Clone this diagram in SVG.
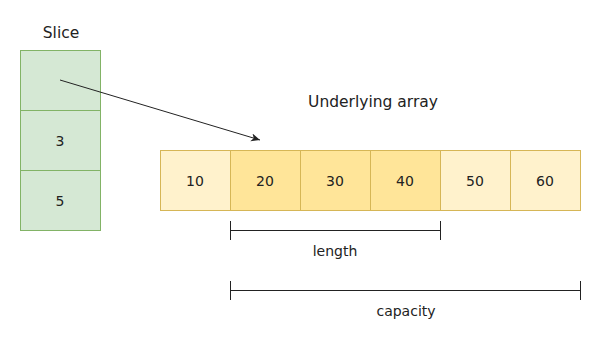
<svg xmlns="http://www.w3.org/2000/svg" width="601" height="342" viewBox="0 0 601 342">
<defs>
<style>
text{font-family:"DejaVu Sans",Verdana,sans-serif;fill:#222;text-anchor:middle}
.n{font-size:14px}
.t{font-size:15.5px}
.s{fill:#d5e8d4;stroke:#82b366;stroke-width:1}
.a{fill:#fff2cc;stroke:#d6b656;stroke-width:1}
.b{fill:#ffe599;stroke:#d6b656;stroke-width:1}
.l{stroke:#222;stroke-width:1;fill:none}
</style>
<marker id="ah" markerWidth="10" markerHeight="10" refX="9" refY="5" orient="auto" markerUnits="userSpaceOnUse">
<path d="M0,1 L9,5 L0,9 L2.5,5 Z" fill="#222"/>
</marker>
</defs>
<rect width="601" height="342" fill="#fff"/>
<text class="t" x="61" y="38">Slice</text>
<text class="t" x="373" y="107">Underlying array</text>
<g id="slice0"><rect class="s" x="20.5" y="50.5" width="80" height="60"/></g>
<g id="slice1"><rect class="s" x="20.5" y="110.5" width="80" height="60"/><text class="n" x="60" y="146">3</text></g>
<g id="slice2"><rect class="s" x="20.5" y="170.5" width="80" height="60"/><text class="n" x="60" y="206">5</text></g>
<g id="a10"><rect class="a" x="160.5" y="150.5" width="70" height="60"/><text class="n" x="195" y="186">10</text></g>
<g id="a20"><rect class="b" x="230.5" y="150.5" width="70" height="60"/><text class="n" x="265" y="186">20</text></g>
<g id="a30"><rect class="b" x="300.5" y="150.5" width="70" height="60"/><text class="n" x="335" y="186">30</text></g>
<g id="a40"><rect class="b" x="370.5" y="150.5" width="70" height="60"/><text class="n" x="405" y="186">40</text></g>
<g id="a50"><rect class="a" x="440.5" y="150.5" width="70" height="60"/><text class="n" x="475" y="186">50</text></g>
<g id="a60"><rect class="a" x="510.5" y="150.5" width="70" height="60"/><text class="n" x="545" y="186">60</text></g>
<g id="connectors">
<path class="l" d="M60,80 L260,140" marker-end="url(#ah)"/>
<path class="l" d="M230,230.5 L440,230.5 M230.5,221 L230.5,240 M440.5,221 L440.5,240"/>
<path class="l" d="M230,290.5 L580,290.5 M230.5,281 L230.5,300 M580.5,281 L580.5,300"/>
</g>
<text class="n" x="335" y="256">length</text>
<text class="n" x="406" y="316">capacity</text>
</svg>
